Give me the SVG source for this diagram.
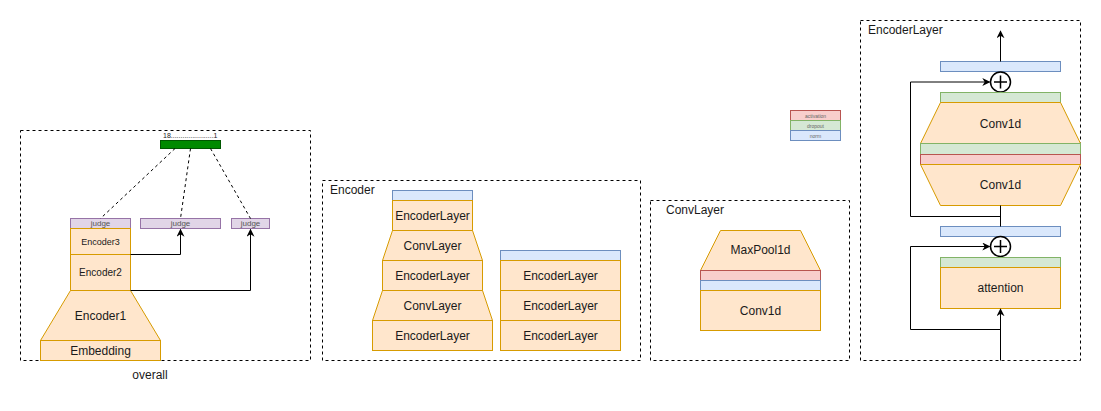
<svg xmlns="http://www.w3.org/2000/svg" width="1101" height="411" viewBox="0 0 1101 411">
<defs>
<style>
text{font-family:"Liberation Sans",Arial,sans-serif;fill:#1a1a1a;text-anchor:middle;dominant-baseline:central}
.panel{fill:none;stroke:#000;stroke-width:1;stroke-dasharray:3 3}
.or{fill:#ffe6cc;stroke:#d79b00;stroke-width:1}
.pu{fill:#e1d5e7;stroke:#9673a6;stroke-width:1}
.bl{fill:#dae8fc;stroke:#6c8ebf;stroke-width:1}
.gr{fill:#d5e8d4;stroke:#82b366;stroke-width:1}
.rd{fill:#f8cecc;stroke:#b85450;stroke-width:1}
.ln{fill:none;stroke:#000;stroke-width:1}
.dl{fill:none;stroke:#000;stroke-width:1;stroke-dasharray:3 3}
.t12{font-size:12px}
.t10{font-size:10px}
.t8{font-size:8px;fill:#555}
.t5{font-size:5px;fill:#666}
.lbl{text-anchor:start;font-size:12px}
</style>
<marker id="arr" viewBox="0 0 10 10" refX="9" refY="5" markerWidth="8" markerHeight="8" orient="auto" markerUnits="userSpaceOnUse">
<path d="M0,0 L10,5 L0,10 L3,5 Z" fill="#000"/>
</marker>
</defs>

<!-- panels -->
<g id="panels">
<rect class="panel" x="20.5" y="130.5" width="290" height="230"/>
<rect class="panel" x="322.5" y="180.5" width="318" height="180"/>
<rect class="panel" x="650.5" y="200.5" width="199" height="160"/>
<rect class="panel" x="860.5" y="20.5" width="220" height="340"/>
<text x="150" y="375" class="t12">overall</text>
<text x="330" y="190" class="lbl">Encoder</text>
<text x="666" y="210" class="lbl">ConvLayer</text>
<text x="868" y="30" class="lbl">EncoderLayer</text>
</g>

<!-- overall -->
<g id="scorebar">
<rect x="160.5" y="140.5" width="60" height="8" fill="#008a00" stroke="#005700"/>
<text x="163" y="135" font-size="7" fill="#777" style="text-anchor:start">18......................1</text>
</g>
<g id="judge1"><rect class="pu" x="70.5" y="218.5" width="60" height="10"/><text x="100.5" y="223.5" class="t8">judge</text></g>
<g id="judge2"><rect class="pu" x="140.5" y="218.5" width="80" height="10"/><text x="180.5" y="223.5" class="t8">judge</text></g>
<g id="judge3"><rect class="pu" x="231.5" y="218.5" width="38" height="10"/><text x="250.5" y="223.5" class="t8">judge</text></g>
<g id="encoder3"><rect class="or" x="70.5" y="228.5" width="60" height="26"/><text x="100.5" y="241.5" font-size="9" fill="#555">Encoder3</text></g>
<g id="encoder2"><rect class="or" x="70.5" y="254.5" width="60" height="36"/><text x="100.5" y="272.5" class="t10">Encoder2</text></g>
<g id="encoder1"><path class="or" d="M70.5,290.5 L130.5,290.5 L160.5,340.5 L40.5,340.5 Z"/><text x="100.5" y="316" class="t12">Encoder1</text></g>
<g id="embedding"><rect class="or" x="40.5" y="340.5" width="120" height="20"/><text x="100.5" y="350.5" class="t12">Embedding</text></g>

<!-- Encoder panel -->
<g id="enc-norm-left"><rect class="bl" x="392.5" y="190.5" width="80" height="10"/></g>
<g id="enc-el1"><rect class="or" x="392.5" y="200.5" width="80" height="30"/><text x="432.5" y="215.5" class="t12">EncoderLayer</text></g>
<g id="enc-cl1"><path class="or" d="M392.5,230.5 L472.5,230.5 L482.5,260.5 L382.5,260.5 Z"/><text x="432.5" y="245.5" class="t12">ConvLayer</text></g>
<g id="enc-el2"><rect class="or" x="382.5" y="260.5" width="100" height="30"/><text x="432.5" y="275.5" class="t12">EncoderLayer</text></g>
<g id="enc-cl2"><path class="or" d="M382.5,290.5 L482.5,290.5 L492.5,320.5 L372.5,320.5 Z"/><text x="432.5" y="305.5" class="t12">ConvLayer</text></g>
<g id="enc-el3"><rect class="or" x="372.5" y="320.5" width="120" height="30"/><text x="432.5" y="335.5" class="t12">EncoderLayer</text></g>

<g id="enc-norm-right"><rect class="bl" x="500.5" y="250.5" width="120" height="10"/></g>
<g id="enc-r1"><rect class="or" x="500.5" y="260.5" width="120" height="30"/><text x="560.5" y="275.5" class="t12">EncoderLayer</text></g>
<g id="enc-r2"><rect class="or" x="500.5" y="290.5" width="120" height="30"/><text x="560.5" y="305.5" class="t12">EncoderLayer</text></g>
<g id="enc-r3"><rect class="or" x="500.5" y="320.5" width="120" height="30"/><text x="560.5" y="335.5" class="t12">EncoderLayer</text></g>

<!-- ConvLayer panel -->
<g id="maxpool"><path class="or" d="M720.5,230.5 L800.5,230.5 L820.5,270.5 L700.5,270.5 Z"/><text x="760.5" y="249.5" class="t12">MaxPool1d</text></g>
<g id="cl-act"><rect class="rd" x="700.5" y="270.5" width="120" height="10"/></g>
<g id="cl-norm"><rect class="bl" x="700.5" y="280.5" width="120" height="10"/></g>
<g id="cl-conv"><rect class="or" x="700.5" y="290.5" width="120" height="40"/><text x="760.5" y="310.5" class="t12">Conv1d</text></g>

<!-- legend -->
<g id="legend">
<rect class="rd" x="790.5" y="110.5" width="50" height="10"/><text x="815.5" y="115.5" class="t5">activation</text>
<rect class="gr" x="790.5" y="120.5" width="50" height="10"/><text x="815.5" y="125.5" class="t5">dropout</text>
<rect class="bl" x="790.5" y="130.5" width="50" height="10"/><text x="815.5" y="135.5" class="t5">norm</text>
</g>

<!-- EncoderLayer panel -->
<g id="el-norm2"><rect class="bl" x="940.5" y="61.5" width="120" height="10"/></g>
<g id="el-add2"><circle cx="1000.5" cy="82" r="10" fill="#fff" stroke="#000" stroke-width="1.5"/><path d="M994,82 H1007 M1000.5,75.5 V88.5" stroke="#000" stroke-width="1.5"/></g>
<g id="el-drop3"><rect class="gr" x="940.5" y="92.5" width="120" height="10"/></g>
<g id="el-conv2"><path class="or" d="M940.5,102.5 L1060.5,102.5 L1080.5,143.5 L920.5,143.5 Z"/><text x="1000.5" y="124" class="t12">Conv1d</text></g>
<g id="el-drop2"><rect class="gr" x="920.5" y="143.5" width="160" height="11"/></g>
<g id="el-act"><rect class="rd" x="920.5" y="154.5" width="160" height="10"/></g>
<g id="el-conv1"><path class="or" d="M920.5,164.5 L1080.5,164.5 L1060.5,205.5 L940.5,205.5 Z"/><text x="1000.5" y="185" class="t12">Conv1d</text></g>
<g id="el-norm1"><rect class="bl" x="940.5" y="226.5" width="120" height="10"/></g>
<g id="el-add1"><circle cx="1000.5" cy="246.5" r="10" fill="#fff" stroke="#000" stroke-width="1.5"/><path d="M994,246.5 H1007 M1000.5,240 V253" stroke="#000" stroke-width="1.5"/></g>
<g id="el-drop1"><rect class="gr" x="940.5" y="257.5" width="120" height="10"/></g>
<g id="el-attn"><rect class="or" x="940.5" y="267.5" width="120" height="41"/><text x="1000.5" y="288" class="t12">attention</text></g>

<!-- connectors -->
<g id="connectors">
<path class="dl" d="M175,148.5 L100.5,218.5"/>
<path class="dl" d="M190.5,148.5 L180.5,218.5"/>
<path class="dl" d="M210.5,148.5 L250.5,218.5"/>
<path class="ln" d="M130.5,254.5 H180.5 V229.5" marker-end="url(#arr)"/>
<path class="ln" d="M130.5,290.5 H250.5 V229.5" marker-end="url(#arr)"/>

<path class="ln" d="M1000.5,61.5 V31" marker-end="url(#arr)"/>
<path class="ln" d="M1000.5,205.5 V226.5"/>
<path class="ln" d="M1000.5,216.5 H910.5 V82 H989.5" marker-end="url(#arr)"/>
<path class="ln" d="M1000.5,360.5 V309" marker-end="url(#arr)"/>
<path class="ln" d="M1000.5,329.5 H910.5 V246.5 H989.5" marker-end="url(#arr)"/>
</g>
</svg>
